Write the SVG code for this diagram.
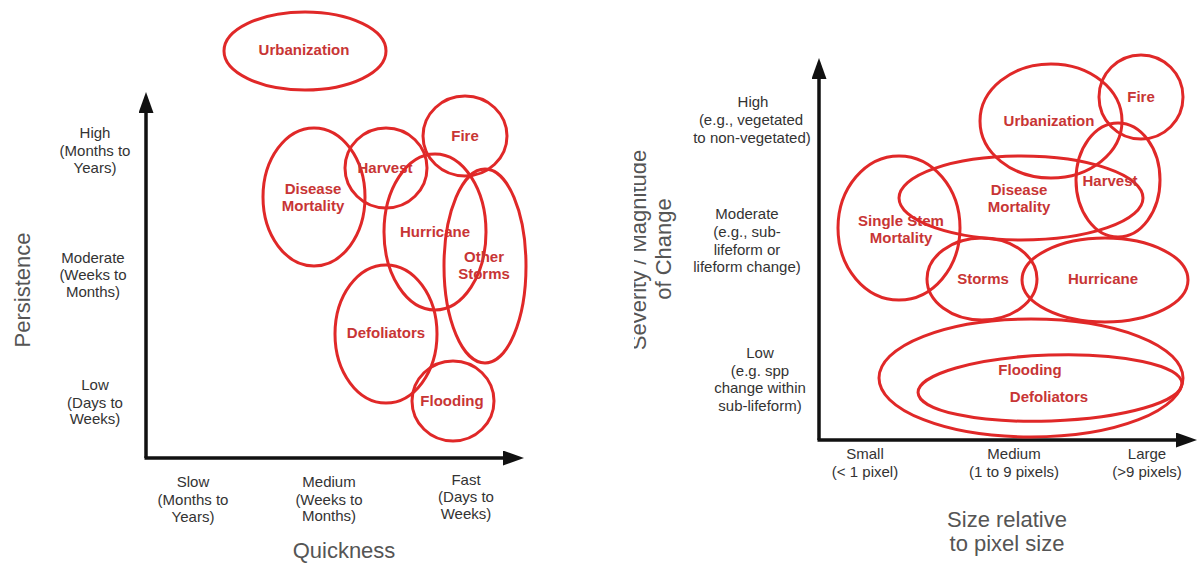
<svg xmlns="http://www.w3.org/2000/svg" width="1197" height="564" viewBox="0 0 1197 564">
<style>
.bg{fill:#ffffff}
.ell{fill:none;stroke:#e02828;stroke-width:3}
.lbl{font-family:"Liberation Sans",Arial,sans-serif;font-weight:bold;font-size:15px;fill:#c83535;text-anchor:middle}
.tick{font-family:"Liberation Sans",Arial,sans-serif;font-size:15px;fill:#333333;text-anchor:middle}
.title{font-family:"Liberation Sans",Arial,sans-serif;font-size:22px;fill:#555555;text-anchor:middle}
.axis{stroke:#111111;stroke-width:3.5;fill:none}
</style>
<defs>
<marker id="arr" markerUnits="userSpaceOnUse" markerWidth="21" markerHeight="15" refX="13" refY="7.5" orient="auto">
<path d="M0,0 L21,7.5 L0,15 z" fill="#111111"/>
</marker>
<clipPath id="sevclip"><rect x="634" y="100" width="80" height="300"/></clipPath>
</defs>
<rect class="bg" x="0" y="0" width="1197" height="564"/>

<g id="connectors">
<line class="axis" x1="146" y1="458" x2="146" y2="100" marker-end="url(#arr)"/>
<line class="axis" x1="144.5" y1="458" x2="516" y2="458" marker-end="url(#arr)"/>
<line class="axis" x1="819" y1="440" x2="819" y2="66" marker-end="url(#arr)"/>
<line class="axis" x1="817.5" y1="440" x2="1189" y2="440" marker-end="url(#arr)"/>
</g>

<g id="left-axis-labels">
<text class="tick" x="95" y="138">High</text>
<text class="tick" x="95" y="156">(Months to</text>
<text class="tick" x="95" y="173">Years)</text>
<text class="tick" x="93" y="263">Moderate</text>
<text class="tick" x="93" y="280">(Weeks to</text>
<text class="tick" x="93" y="297">Months)</text>
<text class="tick" x="95" y="390">Low</text>
<text class="tick" x="95" y="408">(Days to</text>
<text class="tick" x="95" y="424">Weeks)</text>
<text class="tick" x="193" y="487">Slow</text>
<text class="tick" x="193" y="505">(Months to</text>
<text class="tick" x="193" y="522">Years)</text>
<text class="tick" x="329" y="487">Medium</text>
<text class="tick" x="329" y="505">(Weeks to</text>
<text class="tick" x="329" y="521">Months)</text>
<text class="tick" x="466" y="485">Fast</text>
<text class="tick" x="466" y="502">(Days to</text>
<text class="tick" x="466" y="519">Weeks)</text>
<text class="title" x="344" y="558">Quickness</text>
<text class="title" transform="translate(30,290) rotate(-90)">Persistence</text>
</g>

<g id="L-urbanization"><ellipse class="ell" cx="305" cy="51" rx="81" ry="39"/><text class="lbl" x="304" y="55">Urbanization</text></g>
<g id="L-disease"><ellipse class="ell" cx="314" cy="197" rx="51" ry="69"/><text class="lbl" x="313" y="194">Disease</text><text class="lbl" x="313" y="211">Mortality</text></g>
<g id="L-harvest"><ellipse class="ell" cx="386" cy="168" rx="41" ry="40"/><text class="lbl" x="385" y="173">Harvest</text></g>
<g id="L-fire"><ellipse class="ell" cx="465" cy="136" rx="42" ry="40"/><text class="lbl" x="465" y="141">Fire</text></g>
<g id="L-hurricane"><ellipse class="ell" cx="435" cy="232" rx="51" ry="78"/><text class="lbl" x="435" y="237">Hurricane</text></g>
<g id="L-otherstorms"><ellipse class="ell" cx="485" cy="266" rx="41" ry="97"/><text class="lbl" x="484" y="262">Other</text><text class="lbl" x="484" y="279">Storms</text></g>
<g id="L-defoliators"><ellipse class="ell" cx="386" cy="334" rx="51" ry="69"/><text class="lbl" x="386" y="338">Defoliators</text></g>
<g id="L-flooding"><ellipse class="ell" cx="453" cy="401" rx="41" ry="40"/><text class="lbl" x="452" y="406">Flooding</text></g>

<g id="right-axis-labels">
<text class="tick" x="753" y="107">High</text>
<text class="tick" x="751" y="125">(e.g., vegetated</text>
<text class="tick" x="752" y="143">to non-vegetated)</text>
<text class="tick" x="747" y="219">Moderate</text>
<text class="tick" x="747" y="237">(e.g., sub-</text>
<text class="tick" x="747" y="255">lifeform or</text>
<text class="tick" x="747" y="272">lifeform change)</text>
<text class="tick" x="760" y="358">Low</text>
<text class="tick" x="760" y="376">(e.g. spp</text>
<text class="tick" x="760" y="393">change within</text>
<text class="tick" x="760" y="411">sub-lifeform)</text>
<text class="tick" x="865" y="459">Small</text>
<text class="tick" x="865" y="477">(&lt; 1 pixel)</text>
<text class="tick" x="1014" y="459">Medium</text>
<text class="tick" x="1014" y="477">(1 to 9 pixels)</text>
<text class="tick" x="1147" y="459">Large</text>
<text class="tick" x="1147" y="477">(&gt;9 pixels)</text>
<text class="title" x="1007" y="527">Size relative</text>
<text class="title" x="1007" y="551">to pixel size</text>
<g clip-path="url(#sevclip)"><text class="title" transform="translate(646,250) rotate(-90)">Severity / Magnitude</text></g>
<text class="title" transform="translate(671,249) rotate(-90)">of Change</text>
</g>

<g id="R-flooding"><ellipse class="ell" cx="1031" cy="378" rx="152" ry="59"/><text class="lbl" x="1030" y="375">Flooding</text></g>
<g id="R-defoliators"><ellipse class="ell" cx="1050" cy="388" rx="132" ry="33" transform="rotate(-2 1050 388)"/><text class="lbl" x="1049" y="402">Defoliators</text></g>
<g id="R-storms"><ellipse class="ell" cx="982" cy="279" rx="55" ry="41"/><text class="lbl" x="983" y="284">Storms</text></g>
<g id="R-hurricane"><ellipse class="ell" cx="1105" cy="280" rx="83" ry="42"/><text class="lbl" x="1103" y="284">Hurricane</text></g>
<g id="R-singlestem"><ellipse class="ell" cx="899" cy="228" rx="61" ry="72"/><text class="lbl" x="901" y="226">Single Stem</text><text class="lbl" x="901" y="243">Mortality</text></g>
<g id="R-disease"><ellipse class="ell" cx="1021" cy="198" rx="122" ry="42"/><text class="lbl" x="1019" y="195">Disease</text><text class="lbl" x="1019" y="212">Mortality</text></g>
<g id="R-urbanization"><ellipse class="ell" cx="1051" cy="121" rx="71" ry="57"/><text class="lbl" x="1049" y="126">Urbanization</text></g>
<g id="R-harvest"><ellipse class="ell" cx="1118" cy="180" rx="42" ry="57"/><text class="lbl" x="1110" y="186">Harvest</text></g>
<g id="R-fire"><ellipse class="ell" cx="1141" cy="97" rx="42" ry="42"/><text class="lbl" x="1141" y="102">Fire</text></g>
</svg>
